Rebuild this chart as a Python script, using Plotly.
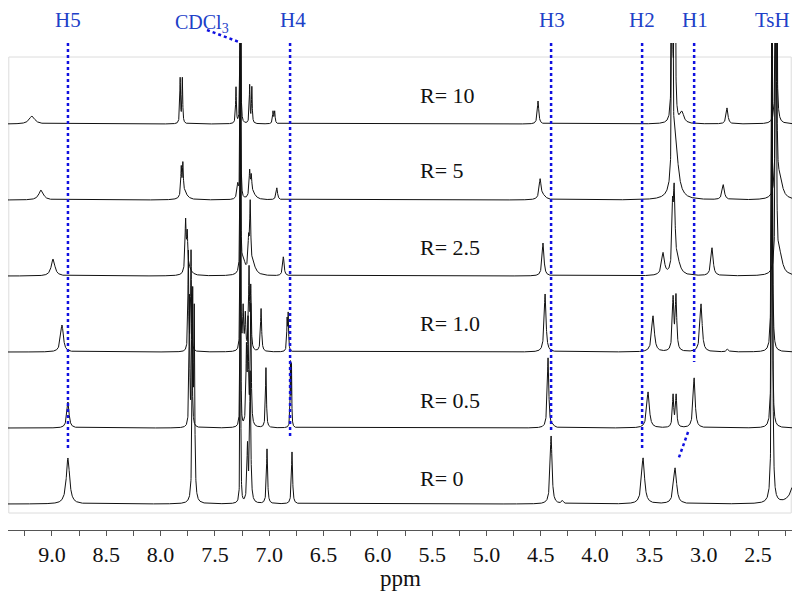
import numpy as np
import plotly.graph_objects as go

# stacked 1H NMR spectra, top to bottom
labels = ["R= 10", "R= 5", "R= 2.5", "R= 1.0", "R= 0.5", "R= 0"]

# peaks: (ppm, height, half width in ppm)
peaks_r10 = [(9.184, 8, 0.03), (7.820, 45, 0.004), (7.800, 45, 0.004), (7.306, 36, 0.004),
             (7.265, 500, 0.002), (7.180, 38, 0.004), (7.160, 36, 0.004), (6.965, 12, 0.005),
             (6.950, 12, 0.005), (4.525, 23, 0.008), (3.292, 300, 0.004), (3.265, 300, 0.004),
             (3.275, 20, 0.01), (3.200, 11, 0.02), (2.785, 16, 0.01), (2.333, 500, 0.004)]
peaks_r5 = [(9.100, 10, 0.025), (7.810, 28, 0.005), (7.795, 30, 0.005), (7.780, 7, 0.03),
            (7.290, 14, 0.008), (7.265, 500, 0.002), (7.180, 25, 0.006), (7.165, 18, 0.006),
            (7.150, 6, 0.03), (6.930, 12, 0.008), (4.506, 19, 0.01), (4.480, 4, 0.03),
            (3.288, 300, 0.005), (3.260, 55, 0.03), (2.820, 15, 0.012), (2.333, 500, 0.004),
            (2.300, 20, 0.03)]
peaks_r25 = [(8.990, 17, 0.02), (7.770, 50, 0.006), (7.755, 35, 0.006), (7.740, 6, 0.03),
             (7.265, 500, 0.002), (7.240, 15, 0.02), (7.190, 28, 0.006), (7.175, 65, 0.006),
             (7.150, 10, 0.03), (6.870, 19, 0.008), (4.479, 33, 0.01), (3.374, 22, 0.015),
             (3.287, 50, 0.006), (3.272, 80, 0.01), (3.240, 12, 0.03), (2.923, 28, 0.012),
             (2.335, 500, 0.004), (2.300, 20, 0.03)]
peaks_r1 = [(8.908, 27, 0.015), (7.745, 100, 0.004), (7.720, 100, 0.004), (7.265, 500, 0.002),
            (7.240, 42, 0.005), (7.220, 35, 0.005), (7.186, 80, 0.005), (7.170, 60, 0.005),
            (7.075, 43, 0.006), (6.835, 30, 0.004), (6.825, 36, 0.004), (4.460, 58, 0.01),
            (3.466, 36, 0.014), (3.282, 52, 0.008), (3.255, 54, 0.008), (3.024, 48, 0.012),
            (2.780, 3, 0.01), (2.372, 500, 0.004)]
peaks_r05 = [(8.853, 26, 0.012), (7.735, 130, 0.004), (7.712, 130, 0.004), (7.265, 500, 0.002),
             (7.210, 73, 0.005), (7.195, 100, 0.005), (7.170, 120, 0.005), (7.030, 60, 0.005),
             (6.805, 63, 0.003), (6.795, 60, 0.003), (4.433, 70, 0.008), (4.390, 3, 0.01),
             (3.512, 36, 0.014), (3.282, 32, 0.007), (3.254, 32, 0.007), (3.088, 50, 0.011),
             (2.372, 500, 0.004)]
peaks_r0 = [(8.853, 46, 0.018), (7.705, 200, 0.005), (7.690, 180, 0.005), (7.265, 500, 0.002),
            (7.200, 55, 0.006), (7.175, 130, 0.006), (7.020, 55, 0.006), (6.790, 52, 0.006),
            (4.405, 68, 0.01), (4.300, 3, 0.01), (3.558, 46, 0.016), (3.263, 36, 0.016),
            (2.370, 500, 0.005), (2.150, 30, 0.04)]
spectra = [peaks_r10, peaks_r5, peaks_r25, peaks_r1, peaks_r05, peaks_r0]

# assignment markers
marker_names = ["H5", "H4", "H3", "H2", "H1", "TsH"]

tick_vals = [9.0, 8.5, 8.0, 7.5, 7.0, 6.5, 6.0, 5.5, 5.0, 4.5, 4.0, 3.5, 3.0, 2.5]
tick_text = ["9.0", "8.5", "8.0", "7.5", "7.0", "6.5", "6.0", "5.5", "5.0", "4.5", "4.0", "3.5", "3.0", "2.5"]

x_left, x_right = 9.405, 2.187
ppm = np.linspace(x_right, x_left, 9000)

fig = go.Figure()
for i, peaks in enumerate(spectra):
    base = 26 + 76 * (len(spectra) - 1 - i)
    y = np.full_like(ppm, float(base))
    for p0, h, w in peaks:
        y += h / (1 + ((ppm - p0) / w) ** 2)
    fig.add_trace(go.Scatter(x=ppm, y=y, mode="lines", line=dict(color="#111111", width=1),
                             showlegend=False, hoverinfo="skip"))

serif = "Liberation Serif"
blue_line = "#1010e0"
blue_text = "#2040c8"

# page pixels -> paper coords (plot area spans x 8..792, y 43..530 on the page)
def px_to_paper(px):
    return (px - 8) / 784

def py_to_paper(py):
    return (530 - py) / 487

# light frame around the spectra
fig.add_shape(type="rect", xref="paper", yref="y", x0=0.001, x1=0.999, y0=17, y1=473,
              line=dict(color="#dcdcdc", width=1), layer="below")

# dotted guide lines
guides = [(8.853, 487, 80), (6.808, 487, 93), (4.405, 487, 100), (3.567, 487, 82), (3.088, 487, 168)]
for gx, y0, y1 in guides:
    fig.add_shape(type="line", xref="x", yref="y", x0=gx, x1=gx, y0=y0, y1=y1,
                  line=dict(color=blue_line, width=2.5, dash="dot"))
fig.add_shape(type="line", xref="x", yref="y", x0=3.144, x1=3.236, y0=98, y1=70,
              line=dict(color=blue_line, width=2.5, dash="dot"))
fig.add_shape(type="line", xref="paper", yref="paper", x0=px_to_paper(207), x1=px_to_paper(239),
              y0=py_to_paper(30), y1=py_to_paper(42),
              line=dict(color=blue_line, width=2.5, dash="dot"))

label_px = [68, 293, 552, 642, 695, 772]
for name, lx in zip(marker_names, label_px):
    fig.add_annotation(text=name, xref="paper", yref="paper", x=px_to_paper(lx),
                       y=py_to_paper(20), showarrow=False, xanchor="center", yanchor="middle",
                       font=dict(family=serif, size=21, color=blue_text))
fig.add_annotation(text="CDCl<sub>3</sub>", xref="paper", yref="paper", x=px_to_paper(202),
                   y=py_to_paper(23), showarrow=False, xanchor="center", yanchor="middle",
                   font=dict(family=serif, size=20, color=blue_text))

label_y = [95, 170, 247, 323, 400, 478]
for text, ly in zip(labels, label_y):
    fig.add_annotation(text=text, xref="paper", yref="y", x=px_to_paper(418), y=530 - ly,
                       showarrow=False, xanchor="left", yanchor="middle",
                       font=dict(family=serif, size=22, color="#111111"))

fig.add_annotation(text="ppm", xref="paper", yref="paper", x=px_to_paper(400),
                   y=py_to_paper(578), showarrow=False, xanchor="center", yanchor="middle",
                   font=dict(family=serif, size=23, color="#111111"))

# the page body adds an 8px offset, so margins are set relative to that
fig.update_layout(
    width=800, height=598,
    margin=dict(l=0, r=16, t=35, b=76),
    paper_bgcolor="white", plot_bgcolor="white",
    xaxis=dict(range=[x_left, x_right], tickmode="array", tickvals=tick_vals, ticktext=tick_text,
               showgrid=False, zeroline=False, showline=True, linecolor="#555555", linewidth=1,
               ticks="outside", ticklen=5, tickcolor="#555555",
               minor=dict(dtick=0.25, tick0=0, ticks="outside", ticklen=5, tickcolor="#555555",
                          showgrid=False),
               tickfont=dict(family=serif, size=22, color="#111111")),
    yaxis=dict(range=[0, 487], visible=False, showgrid=False, zeroline=False),
)

fig.write_html("out.html")
